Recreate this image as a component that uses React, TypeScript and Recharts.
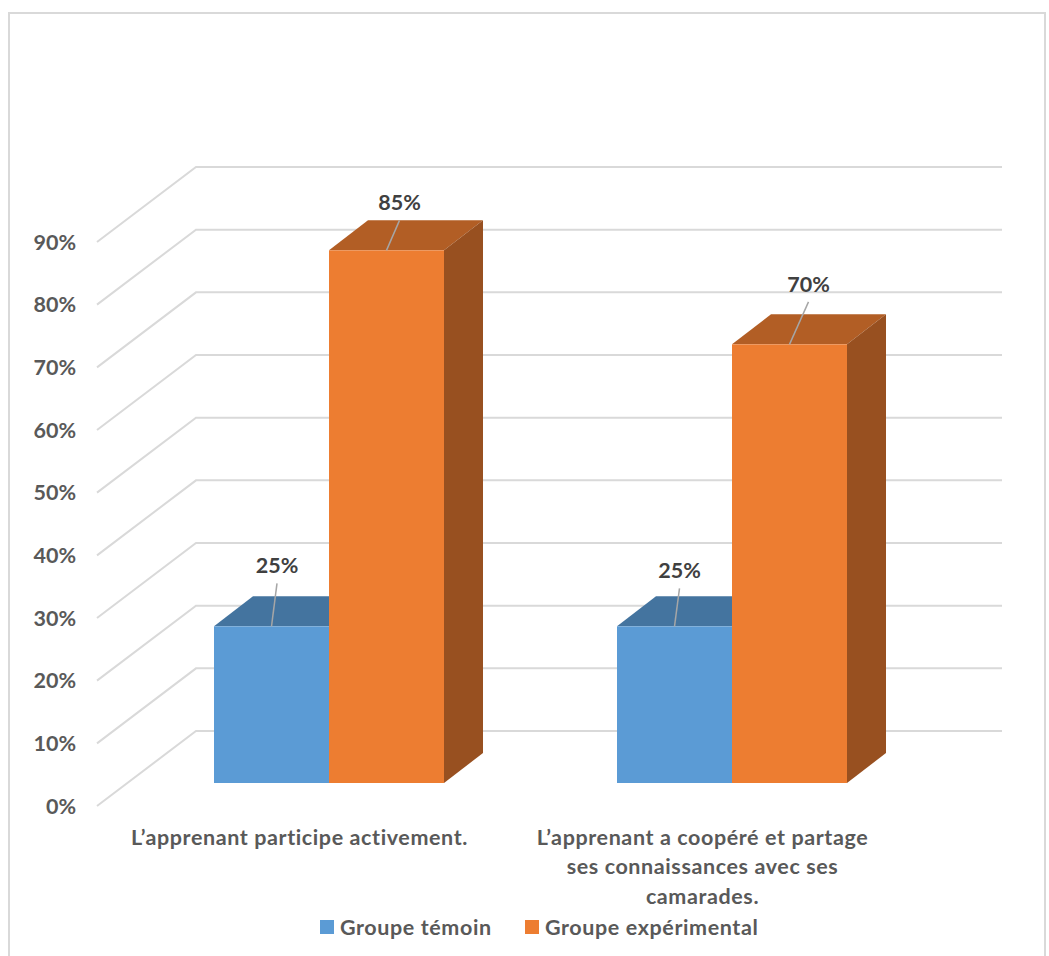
import React from "react";
import { BarChart, Bar, XAxis, YAxis, Legend, LabelList, CartesianGrid } from "recharts";

const categories = [
  "L’apprenant participe activement.",
  "L’apprenant a coopéré et partage\nses connaissances avec ses\ncamarades.",
];
const temoin = [25, 25];
const experimental = [85, 70];
const yTicks = [0, 10, 20, 30, 40, 50, 60, 70, 80, 90];
const seriesNames = ["Groupe témoin", "Groupe expérimental"];

const data = categories.map((c, i) => ({ c, temoin: temoin[i], experimental: experimental[i] }));

const FONT = "Lato, sans-serif";
const SIZE = 21.5;
const SPACING = 0.6;
const TEXT = "#595959";
const GRID = "#D9D9D9";
const DX = 39;
const DY = 30;

const GridLine = (p: any) => {
  const y = p.y1;
  return <polyline key={p.key ?? y} points={`97,${y + 23} 196,${y - 52} 1002,${y - 52}`} fill="none" stroke={GRID} strokeWidth={2} />;
};

const YTick = (p: any) => {
  const { y, payload } = p;
  return (
    <text x={76} y={y + 23} dy="0.35em" textAnchor="end" fontFamily={FONT} fontWeight={700} fontSize={SIZE} fill={TEXT}>
      {payload.value}%
    </text>
  );
};

const XTick = (p: any) => {
  const { x, payload } = p;
  const lines = String(payload.value).split("\n");
  return (
    <g>
      {lines.map((l: string, i: number) => (
        <text key={i} x={x - 29} y={837 + i * 29.5} dy="0.35em" textAnchor="middle" fontFamily={FONT} fontWeight={700} fontSize={SIZE} letterSpacing={SPACING} fill={TEXT}>
          {l}
        </text>
      ))}
    </g>
  );
};

const Box3D = (p: any) => {
  const { x, y, width, height, fill, topFill, sideFill } = p;
  const r = x + width;
  const b = y + height;
  return (
    <g>
      <polygon points={`${x},${y} ${x + DX},${y - DY} ${r + DX},${y - DY} ${r},${y}`} fill={topFill} />
      <polygon points={`${r},${y} ${r + DX},${y - DY} ${r + DX},${b - DY} ${r},${b}`} fill={sideFill} />
      <rect x={x} y={y} width={width} height={height} fill={fill} />
    </g>
  );
};

const makeLabel = (offsets: number[][]) => (p: any) => {
  const { x, y, width, value, index } = p;
  const cx = x + width / 2;
  const [lx, ly, tx, ty] = offsets[index];
  return (
    <g>
      <line x1={cx} y1={y} x2={cx + lx} y2={y - ly} stroke="#A6A6A6" strokeWidth={1.5} />
      <text x={cx + tx} y={y - ty} dy="0.35em" textAnchor="middle" fontFamily={FONT} fontWeight={700} fontSize={SIZE} fill="#404040">
        {value}%
      </text>
    </g>
  );
};

const LegendContent = () => (
  <div style={{ position: "relative", height: 30, width: 1049 }}>
    {seriesNames.map((n, i) => (
      <div key={n} style={{ position: "absolute", left: i === 0 ? 320 : 525, top: 0, display: "flex", alignItems: "center", height: 30 }}>
        <span style={{ width: 14, height: 14, background: i === 0 ? "#5B9BD5" : "#ED7D31", marginRight: 6 }} />
        <span style={{ fontFamily: FONT, fontWeight: 700, fontSize: SIZE, letterSpacing: SPACING, color: TEXT, whiteSpace: "nowrap" }}>{n}</span>
      </div>
    ))}
  </div>
);

export default function App() {
  return (
    <div style={{ position: "absolute", left: 0, top: 0, width: 1049, height: 956, overflow: "hidden", background: "#fff" }}>
      <div style={{ position: "absolute", left: 8, top: 12, width: 1038, height: 960, border: "2px solid #D9D9D9", borderBottom: "none", boxSizing: "border-box" }} />
      <BarChart
        width={1049}
        height={956}
        data={data}
        margin={{ top: 219, right: 116, bottom: 0, left: 0 }}
        barGap={0}
        barSize={115}
        style={{ position: "absolute", left: 0, top: 0 }}
      >
        <CartesianGrid vertical={false} horizontal={GridLine as any} />
        <XAxis dataKey="c" axisLine={false} tickLine={false} height={143} tick={<XTick />} interval={0} />
        <YAxis width={127} domain={[0, 90]} ticks={yTicks} axisLine={false} tickLine={false} tick={<YTick />} />
        <Legend verticalAlign="bottom" height={30} content={<LegendContent />} wrapperStyle={{ left: 0, bottom: 14, width: 1049 }} />
        <Bar dataKey="temoin" name={seriesNames[0]} fill="#5B9BD5" isAnimationActive={false}
          shape={<Box3D topFill="#44749F" sideFill="#3E6D97" />}>
          <LabelList dataKey="temoin" content={makeLabel([[5.5, 43, 5.5, 60.5], [5, 38, 5, 56]])} />
        </Bar>
        <Bar dataKey="experimental" name={seriesNames[1]} fill="#ED7D31" isAnimationActive={false}
          shape={<Box3D topFill="#B25E25" sideFill="#985020" />}>
          <LabelList dataKey="experimental" content={makeLabel([[13, 30, 13, 47.5], [19, 42.5, 19, 60]])} />
        </Bar>
      </BarChart>
    </div>
  );
}
